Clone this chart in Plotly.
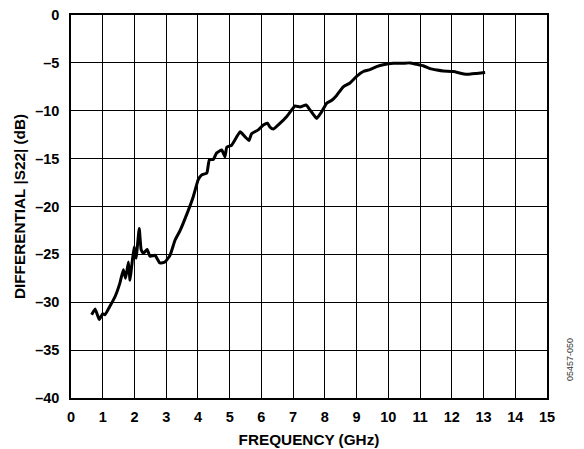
import plotly.graph_objects as go

freq_ghz = [0.65, 0.76, 0.89, 1.0, 1.07, 1.23, 1.39, 1.54, 1.65, 1.72, 1.81, 1.86, 1.91, 1.99, 2.05,
            2.15, 2.21, 2.28, 2.40, 2.49, 2.65, 2.80, 2.96, 3.12, 3.28, 3.44, 3.65, 3.85, 4.01, 4.12,
            4.28, 4.36, 4.48, 4.59, 4.75, 4.85, 4.91, 5.06, 5.33, 5.48, 5.61, 5.69, 5.90, 6.06, 6.19,
            6.27, 6.38, 6.59, 6.80, 6.96, 7.06, 7.22, 7.41, 7.53, 7.64, 7.74, 7.90, 8.06, 8.22, 8.37,
            8.58, 8.79, 9.0, 9.21, 9.42, 9.63, 9.84, 10.16, 10.42, 10.68, 10.9, 11.1, 11.31, 11.53,
            11.73, 12.05, 12.31, 12.52, 12.78, 13.05]
s22_db = [-31.3, -30.7, -31.8, -31.2, -31.3, -30.4, -29.4, -28.0, -26.6, -27.5, -25.8, -27.7, -26.3, -24.2, -25.4,
          -22.3, -24.5, -24.9, -24.5, -25.2, -25.1, -25.9, -25.8, -25.1, -23.5, -22.5, -20.8, -19.0, -17.2, -16.7,
          -16.5, -15.1, -15.1, -14.4, -14.1, -14.8, -13.8, -13.6, -12.2, -12.7, -13.1, -12.4, -12.0, -11.5, -11.3,
          -11.7, -11.9, -11.3, -10.6, -9.9, -9.5, -9.6, -9.4, -9.9, -10.4, -10.8, -10.1, -9.2, -8.9, -8.4,
          -7.5, -7.1, -6.4, -5.9, -5.7, -5.4, -5.2, -5.05, -5.05, -5.0, -5.15, -5.3, -5.6, -5.75,
          -5.85, -5.9, -6.1, -6.2, -6.1, -6.0]

x_ticks = list(range(0, 16))
x_tick_labels = [str(v) for v in x_ticks]
y_ticks = [0, -5, -10, -15, -20, -25, -30, -35, -40]
y_tick_labels = ["0", "–5", "–10", "–15", "–20", "–25", "–30", "–35", "–40"]

fig = go.Figure()
fig.add_trace(go.Scatter(x=freq_ghz, y=s22_db, mode="lines",
                         line=dict(color="black", width=3, shape="spline", smoothing=0.4),
                         showlegend=False))

font = "Arial"
tickfont = dict(size=14.5, family=font, color="black", weight=700)
titlefont = dict(size=15.3, family=font, color="black", weight=700)
fig.update_layout(
    width=576, height=441,
    margin=dict(l=63, r=37, t=7, b=51, autoexpand=False),
    paper_bgcolor="white", plot_bgcolor="white",
    font=dict(family=font, color="black"),
    xaxis=dict(range=[0, 15], tickvals=x_ticks, ticktext=x_tick_labels,
               showgrid=True, gridcolor="black", gridwidth=1, zeroline=False,
               showline=True, linecolor="black", linewidth=1.5, mirror=True,
               ticks="", ticklabelstandoff=5, tickfont=tickfont, automargin=False,
               ticklabeloverflow="allow",
               title=dict(text="FREQUENCY (GHz)", font=titlefont, standoff=10)),
    yaxis=dict(range=[-40, 0], tickvals=y_ticks, ticktext=y_tick_labels,
               showgrid=True, gridcolor="black", gridwidth=1, zeroline=False,
               showline=True, linecolor="black", linewidth=1.5, mirror=True,
               ticks="", ticklabelstandoff=7, tickfont=tickfont, automargin=False,
               ticklabeloverflow="allow",
               title=dict(text="DIFFERENTIAL |S22| (dB)", font=titlefont, standoff=6)),
    annotations=[dict(text="05457-050", x=(562 - 63) / 476, y=(390 - 352) / 383,
                      xref="paper", yref="paper", xanchor="center", yanchor="middle",
                      showarrow=False, textangle=-90, font=dict(size=9, family=font, color="#333"))],
)

fig.write_html("out.html")
